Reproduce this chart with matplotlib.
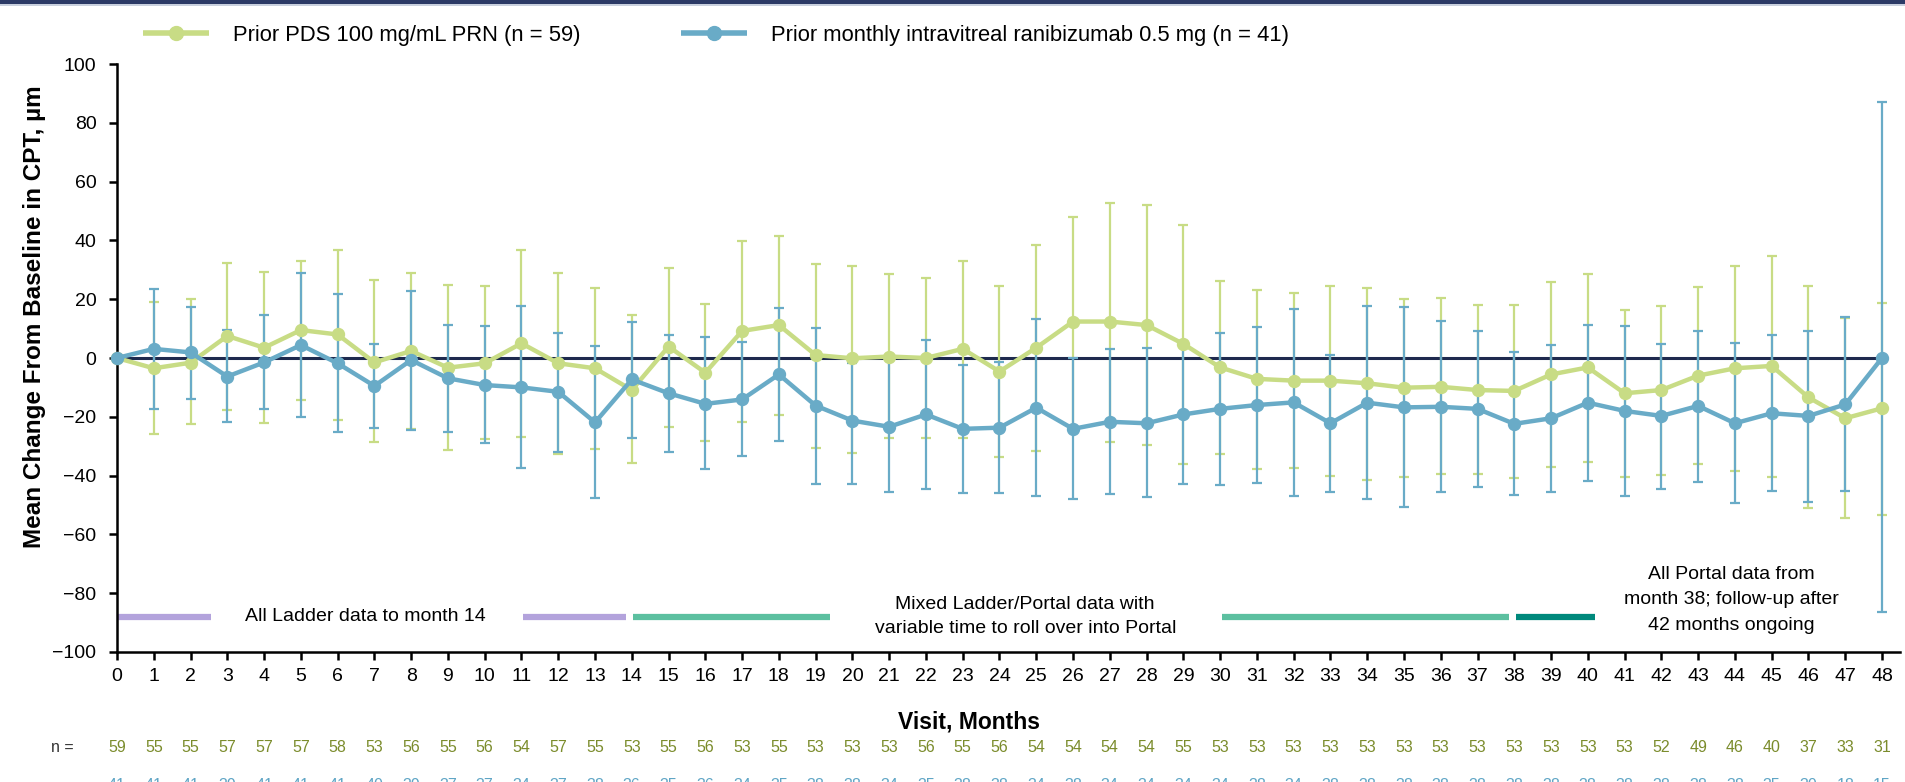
import matplotlib
matplotlib.use('Agg')
import matplotlib.pyplot as plt
from matplotlib.lines import Line2D
from matplotlib.patches import Rectangle
import numpy as np

plt.rcParams['font.family'] = ['Liberation Sans', 'DejaVu Sans']

# ---------------- data ----------------
months = list(range(0, 49))

pds_label = "Prior PDS 100 mg/mL PRN (n = 59)"
rbz_label = "Prior monthly intravitreal ranibizumab 0.5 mg (n = 41)"

pds_mean = [0, -3.5, -1.6, 7.5, 3.5, 9.5, 8.0, -1.5, 2.4, -3.3, -1.8, 5.0, -1.8, -3.5,
            -10.9, 3.9, -5.0, 9.2, 11.2, 1.0, -0.1, 0.5, 0.0, 3.1, -4.6, 3.5, 12.4, 12.4,
            11.2, 4.8, -3.2, -7.1, -7.7, -7.7, -8.6, -10.1, -9.8, -10.9, -11.2, -5.6, -3.2,
            -12.0, -10.9, -6.0, -3.5, -2.7, -13.4, -20.5, -17.1]
pds_upper = [0, 19.2, 20.0, 32.4, 29.2, 33.0, 36.7, 26.4, 28.9, 24.7, 24.5, 36.7, 29.0, 23.9,
             14.6, 30.7, 18.4, 39.9, 41.6, 32.1, 31.3, 28.7, 27.2, 33.0, 24.6, 38.3, 48.1, 52.8,
             51.9, 45.3, 26.2, 23.2, 22.0, 24.6, 23.9, 20.2, 20.4, 18.0, 18.0, 26.0, 28.6,
             16.3, 17.7, 24.0, 31.3, 34.6, 24.6, 13.5, 18.8]
pds_lower = [0, -26.0, -22.5, -17.7, -22.2, -14.2, -21.1, -28.7, -24.3, -31.3, -27.7, -27.0,
             -32.7, -30.8, -35.8, -23.4, -28.1, -21.9, -19.4, -30.5, -32.2, -27.3, -27.1, -27.1,
             -33.7, -31.6, -23.3, -28.5, -29.6, -36.0, -32.5, -37.6, -37.3, -40.0, -41.6, -40.5,
             -39.6, -39.6, -40.7, -37.1, -35.4, -40.5, -39.8, -36.0, -38.3, -40.4, -51.1, -54.5,
             -53.4]

rbz_mean = [0, 3.1, 1.9, -6.3, -1.5, 4.4, -1.8, -9.5, -0.7, -6.9, -9.2, -10.0, -11.5, -21.9,
            -7.3, -12.0, -15.6, -14.1, -5.6, -16.2, -21.3, -23.4, -19.2, -24.1, -23.7, -16.9,
            -24.1, -21.7, -22.2, -19.2, -17.3, -16.0, -15.1, -22.2, -15.2, -16.8, -16.6, -17.3,
            -22.4, -20.5, -15.2, -18.0, -19.7, -16.3, -22.2, -18.8, -19.7, -15.8, 0.0]
rbz_upper = [0, 23.4, 17.5, 9.5, 14.6, 28.9, 21.7, 4.8, 22.9, 11.2, 11.0, 17.7, 8.6, 4.2,
             12.4, 7.8, 7.0, 5.4, 17.1, 10.3, -1.8, -0.5, 6.1, -2.4, -1.3, 13.2, -0.1, 3.1,
             3.3, 4.5, 8.5, 10.4, 16.8, 1.1, 17.7, 17.2, 12.7, 9.2, 2.0, 4.4, 11.2, 10.9, 4.8,
             9.2, 5.2, 7.7, 9.2, 13.8, 87.0]
rbz_lower = [0, -17.5, -13.8, -21.7, -17.3, -20.2, -25.1, -23.7, -24.5, -25.1, -28.8, -37.4,
             -31.9, -47.7, -27.1, -31.9, -37.8, -33.2, -28.1, -42.9, -43.0, -45.7, -44.4, -45.9,
             -46.0, -46.8, -48.0, -46.3, -47.3, -42.9, -43.1, -42.4, -46.8, -45.7, -47.8, -50.6,
             -45.6, -43.8, -46.6, -45.5, -42.0, -46.8, -44.5, -42.3, -49.4, -45.1, -48.9, -45.1,
             -86.5]

pds_n = [59, 55, 55, 57, 57, 57, 58, 53, 56, 55, 56, 54, 57, 55, 53, 55, 56, 53, 55, 53, 53,
         53, 56, 55, 56, 54, 54, 54, 54, 55, 53, 53, 53, 53, 53, 53, 53, 53, 53, 53, 53, 53,
         52, 49, 46, 40, 37, 33, 31]
rbz_n = [41, 41, 41, 39, 41, 41, 41, 40, 39, 37, 37, 34, 37, 38, 36, 35, 36, 34, 35, 38, 38,
         34, 35, 38, 38, 34, 38, 34, 34, 34, 34, 38, 34, 38, 38, 38, 38, 38, 38, 38, 38, 38,
         38, 38, 38, 35, 30, 18, 15]

# study phase bands (start month, end month) and captions
phase_starts = [0, 11, 14, 30, 38]
phase_ends = [2.55, 13.85, 19.4, 37.85, 40.2]
phase_kinds = ['ladder', 'ladder', 'mixed', 'mixed', 'portal']
phase_level = -88
captions = ["All Ladder data to month 14",
            "Mixed Ladder/Portal data with\nvariable time to roll over into Portal",
            "All Portal data from\nmonth 38; follow-up after\n42 months ongoing"]
caption_x = [6.75, 24.7, 43.9]
caption_y = [-88, -88, -82.3]
caption_spacing = [1.4, 1.5, 1.65]

# ---------------- style ----------------
GREEN = '#c8dc85'
BLUE = '#69abc7'
GREEN_TXT = '#7b8c2c'
BLUE_TXT = '#5fa5c5'
PHASE_COL = {'ladder': '#b3a3dc', 'mixed': '#5cc0a0', 'portal': '#00897c'}
NAVY = '#1e2a4e'

W, H = 1906, 782
fig = plt.figure(figsize=(W / 100, H / 100), dpi=100)
fig.patch.set_facecolor('white')

# top banner stripe
fig.add_artist(Rectangle((0, 1 - 4 / H), 1, 4 / H, transform=fig.transFigure,
                         facecolor='#2c3a66', edgecolor='none'))
fig.add_artist(Rectangle((0, 1 - 6 / H), 1, 2 / H, transform=fig.transFigure,
                         facecolor='#c9d0de', edgecolor='none'))

L, R, T, B = 117, 1900, 64, 652
ax = fig.add_axes([L / W, 1 - B / H, (R - L) / W, (B - T) / H])

x = np.array(months)
pm, pu, pl = map(np.array, (pds_mean, pds_upper, pds_lower))
rm, ru, rl = map(np.array, (rbz_mean, rbz_upper, rbz_lower))

ax.hlines(0, x[0], x[-1], color=NAVY, lw=2.2, zorder=1)

eb_kw = dict(fmt='none', elinewidth=1.6, capsize=3.8, capthick=1.6, clip_on=False)
ax.errorbar(x[1:], pm[1:], yerr=[pm[1:] - pl[1:], pu[1:] - pm[1:]], ecolor=GREEN, zorder=2, **eb_kw)
ax.errorbar(x[1:], rm[1:], yerr=[rm[1:] - rl[1:], ru[1:] - rm[1:]], ecolor=BLUE, zorder=3, **eb_kw)

ax.plot(x, pm, '-o', color=GREEN, lw=3.2, ms=8.6, zorder=4, clip_on=False)
ax.plot(x, rm, '-o', color=BLUE, lw=3.2, ms=8.6, zorder=5, clip_on=False)

for s, e, k in zip(phase_starts, phase_ends, phase_kinds):
    ax.hlines(phase_level, s + 0.04, e, color=PHASE_COL[k], lw=4.5, zorder=2)
for txt, cx, cy, ls in zip(captions, caption_x, caption_y, caption_spacing):
    ax.text(cx, cy, txt, ha='center', va='center', fontsize=14, linespacing=ls, zorder=6)

ax.set_xlim(0, (R - L) / ((1882 - L) / 48))
ax.set_ylim(-100, 100)
ax.set_xticks(months)
ax.set_yticks(np.arange(-100, 101, 20))
for sp in ('top', 'right'):
    ax.spines[sp].set_visible(False)
for sp in ('left', 'bottom'):
    ax.spines[sp].set_linewidth(1.8)
    ax.spines[sp].set_color('black')
ax.tick_params(axis='both', direction='out', length=5.8, width=1.8, labelsize=14, colors='black')
ax.tick_params(axis='y', pad=9)
ax.tick_params(axis='x', pad=6)

ax.set_ylabel("Mean Change From Baseline in CPT, \u00b5m", fontsize=17.5, fontweight='bold')
ax.yaxis.set_label_coords(-0.0398, 0.57)
ax.set_xlabel("Visit, Months", fontsize=16.5, fontweight='bold')
ax.xaxis.set_label_coords(0.478, -0.100)

# n at risk rows
fig.text(62 / W, 1 - 748 / H, "n =", ha='center', va='center', fontsize=11.5, color='#333333')
for m, a, b in zip(months, pds_n, rbz_n):
    ax.annotate(str(a), xy=(m, 0), xycoords=('data', 'figure fraction'),
                xytext=(0, H - 748), textcoords='offset pixels',
                ha='center', va='center', fontsize=11.5, color=GREEN_TXT, annotation_clip=False)
    ax.annotate(str(b), xy=(m, 0), xycoords=('data', 'figure fraction'),
                xytext=(0, H - 785), textcoords='offset pixels',
                ha='center', va='center', fontsize=11.5, color=BLUE_TXT, annotation_clip=False)

# legend
handles = [Line2D([], [], color=GREEN, lw=4.0, marker='o', ms=10, solid_capstyle='butt'),
           Line2D([], [], color=BLUE, lw=4.0, marker='o', ms=10, solid_capstyle='butt')]
fig.legend(handles, [pds_label, rbz_label], ncol=2, loc='center left',
           bbox_to_anchor=(143 / W, 1 - 35 / H), frameon=False, fontsize=15.8,
           handlelength=3.0, handletextpad=1.1, columnspacing=4.6, borderpad=0,
           borderaxespad=0)

fig.savefig('out.png', dpi=100)
